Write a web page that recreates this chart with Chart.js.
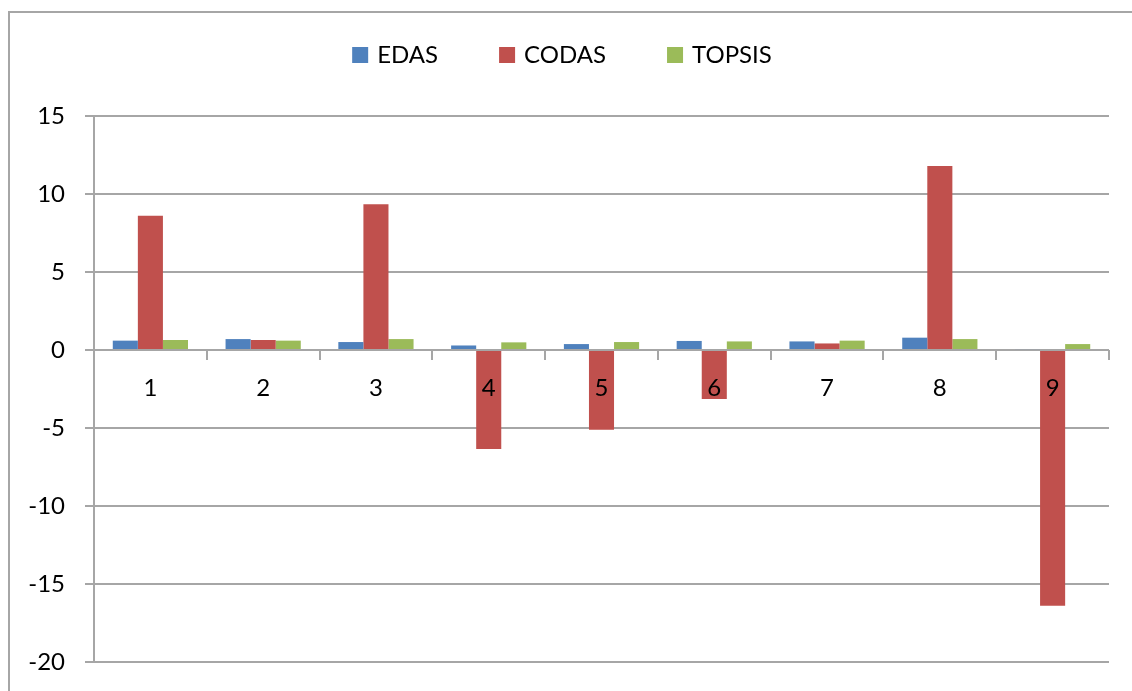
<!DOCTYPE html>
<html>
<head>
<meta charset="utf-8">
<script src="https://cdn.jsdelivr.net/npm/chart.js@4/dist/chart.umd.min.js"></script>
<style>
  html, body { margin: 0; padding: 0; background: #ffffff; }
  #wrap { position: relative; width: 1132px; height: 691px; }
  canvas { display: block; }
</style>
</head>
<body>
<div id="wrap"><canvas id="chart" width="1132" height="691"></canvas></div>
<script>
// Alternatives 1-9 scored by three ranking methods
const categories = ['1', '2', '3', '4', '5', '6', '7', '8', '9'];
const edasValues = [0.60, 0.70, 0.51, 0.29, 0.38, 0.58, 0.55, 0.79, 0.06];
const codasValues = [8.60, 0.64, 9.35, -6.34, -5.12, -3.14, 0.42, 11.80, -16.40];
const topsisValues = [0.64, 0.60, 0.70, 0.49, 0.51, 0.55, 0.60, 0.70, 0.38];
const yTicks = [15, 10, 5, 0, -5, -10, -15, -20];

const FONT = 'Lato, "Open Sans", "Liberation Sans", sans-serif';
const FONT_SIZE = 24;
const GRID = '#a6a6a6';

// Outer frame, category ticks on the zero line, category labels and the legend
const decor = {
  id: 'decor',
  beforeDraw(chart) {
    const ctx = chart.ctx;
    ctx.save();
    ctx.strokeStyle = GRID;
    ctx.lineWidth = 2;
    ctx.strokeRect(9, 12, 2000, 2000);
    ctx.restore();
  },
  afterDatasetsDraw(chart) {
    const ctx = chart.ctx;
    const x = chart.scales.x;
    const y = chart.scales.y;
    const zero = y.getPixelForValue(0);
    const n = categories.length;
    const step = (x.getPixelForValue(n - 1) - x.getPixelForValue(0)) / (n - 1);
    ctx.save();
    ctx.strokeStyle = GRID;
    ctx.lineWidth = 2;
    ctx.beginPath();
    for (let i = 1; i <= n; i++) {
      const bx = Math.round(x.getPixelForValue(i - 1) + step / 2);
      ctx.moveTo(bx, zero);
      ctx.lineTo(bx, zero + 10);
    }
    ctx.stroke();
    ctx.fillStyle = '#000000';
    ctx.font = FONT_SIZE + 'px ' + FONT;
    ctx.textAlign = 'center';
    ctx.textBaseline = 'middle';
    categories.forEach((c, i) => {
      ctx.fillText(c, x.getPixelForValue(i), zero + 38);
    });
    ctx.restore();
  },
  afterDraw(chart) {
    const ctx = chart.ctx;
    const sets = chart.data.datasets;
    const box = 16, gapText = 9, gapItem = 61;
    ctx.save();
    ctx.font = FONT_SIZE + 'px ' + FONT;
    const widths = sets.map(d => ctx.measureText(d.label).width);
    let total = 0;
    widths.forEach((w, i) => { total += box + gapText + w + (i < widths.length - 1 ? gapItem : 0); });
    let cx = 562 - total / 2;
    const cy = 55;
    ctx.textAlign = 'left';
    ctx.textBaseline = 'middle';
    sets.forEach((d, i) => {
      ctx.fillStyle = d.backgroundColor;
      ctx.fillRect(cx, cy - box / 2, box, box);
      ctx.fillStyle = '#000000';
      ctx.fillText(d.label, cx + box + gapText, cy);
      cx += box + gapText + widths[i] + gapItem;
    });
    ctx.restore();
  }
};

new Chart(document.getElementById('chart'), {
  type: 'bar',
  data: {
    labels: categories,
    datasets: [
      { label: 'EDAS', data: edasValues, backgroundColor: '#4F81BD' },
      { label: 'CODAS', data: codasValues, backgroundColor: '#C0504D' },
      { label: 'TOPSIS', data: topsisValues, backgroundColor: '#9BBB59' }
    ]
  },
  options: {
    responsive: false,
    animation: false,
    layout: { padding: { top: 116, right: 23, bottom: 29, left: 0 } },
    datasets: { bar: { categoryPercentage: 0.667, barPercentage: 1.0 } },
    plugins: {
      legend: { display: false },
      tooltip: { enabled: false }
    },
    scales: {
      x: {
        type: 'category',
        display: false,
        offset: true
      },
      y: {
        min: -20,
        max: 15,
        afterBuildTicks(scale) { scale.ticks = yTicks.map(v => ({ value: v })); },
        afterFit(scale) {
          scale.width = 94;
          scale.paddingTop = 0;
          scale.paddingBottom = 0;
        },
        ticks: {
          padding: 20,
          color: '#000000',
          font: { family: FONT, size: FONT_SIZE }
        },
        grid: { color: GRID, lineWidth: 2, tickLength: 9, drawTicks: true },
        border: { display: true, color: GRID, width: 2 }
      }
    }
  },
  plugins: [decor]
});
</script>
</body>
</html>
